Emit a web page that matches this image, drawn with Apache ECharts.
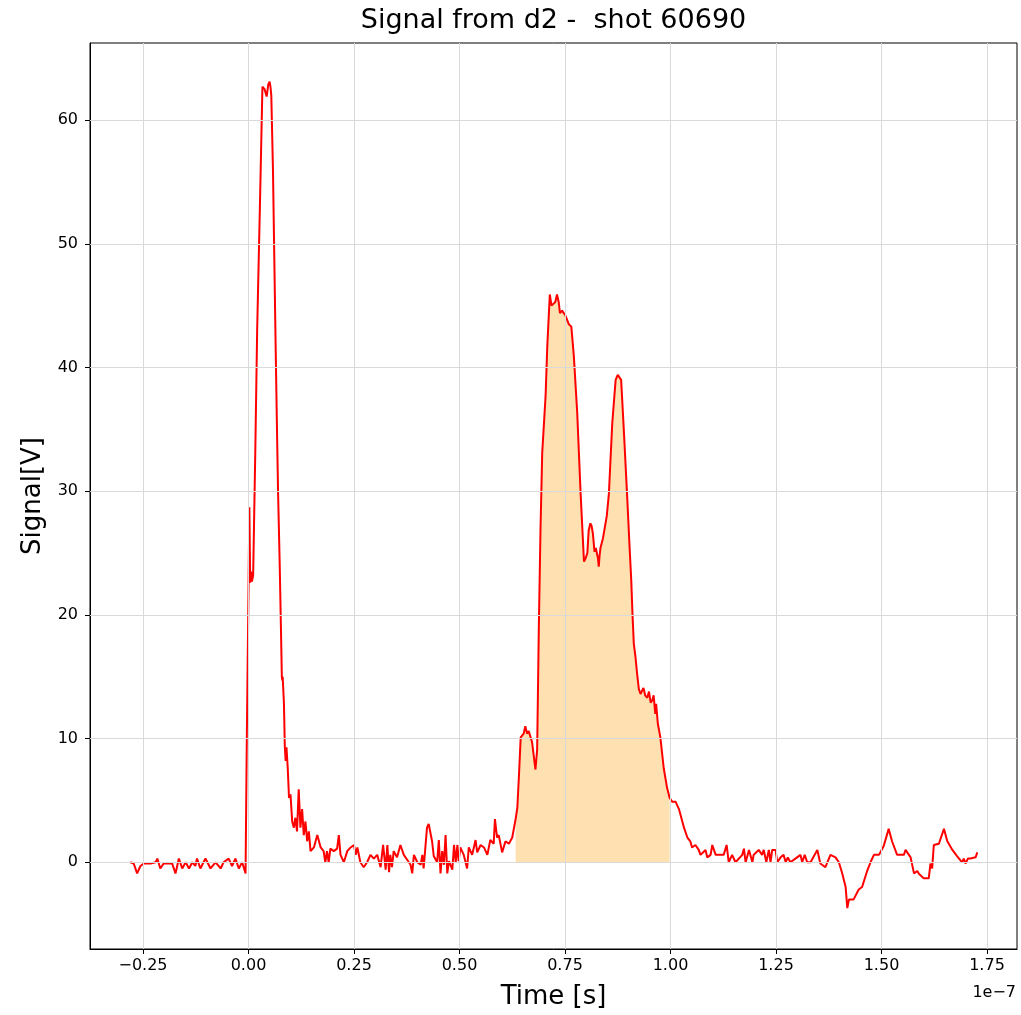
<!DOCTYPE html>
<html>
<head>
<meta charset="utf-8">
<script src="https://cdn.jsdelivr.net/npm/echarts@6/dist/echarts.min.js"></script>
<style>html,body{margin:0;padding:0;background:#fff}#c{width:1021px;height:1015px}</style>
</head>
<body>
<div id="c"></div>
<script>
// Time in units of 1e-7 s
const timeE7 = [
-0.280,-0.272,-0.264,-0.256,-0.248,-0.232,-0.220,-0.216,-0.209,-0.201,
-0.181,-0.173,-0.165,-0.157,-0.149,-0.141,-0.133,-0.126,-0.122,-0.114,
-0.102,-0.090,-0.078,-0.066,-0.059,-0.047,-0.039,-0.031,-0.023,-0.015,-0.007,
-0.004,0.000,0.002,0.004,0.006,0.008,0.011,0.016,0.0205,0.027,
0.033,0.036,0.038,0.043,0.047,0.050,0.052,0.054,0.058,0.064,
0.067,0.070,0.074,0.077,0.079,0.080,0.081,0.084,0.086,0.088,
0.090,0.093,0.096,
0.0995,0.1035,0.1075,0.111,0.115,0.119,0.123,0.127,0.131,0.135,
0.139,0.143,0.147,0.155,0.163,0.171,0.178,0.182,0.186,0.190,
0.194,0.202,0.210,0.214,0.218,0.226,0.234,0.242,0.250,0.254,
0.258,0.265,0.273,0.281,0.289,0.297,0.305,0.313,0.319,0.325,
0.329,0.333,0.336,0.340,0.344,0.352,0.360,
0.368,0.376,0.384,0.388,0.392,0.400,0.408,0.412,0.415,0.423,
0.427,0.435,0.439,0.447,0.451,0.455,0.459,0.463,0.467,0.471,
0.475,0.483,0.487,0.491,0.495,0.498,0.502,0.510,0.518,0.522,
0.530,0.538,0.542,0.550,0.558,0.566,0.573,0.581,0.584,0.589,
0.593,0.601,0.609,0.617,0.625,0.633,0.637,0.641,0.645,0.652,
0.656,0.660,0.664,0.672,0.680,0.684,
0.688,0.692,0.696,0.704,0.708,0.714,0.718,0.722,0.727,0.731,
0.735,0.738,0.743,0.747,0.751,0.755,0.759,0.765,0.771,0.779,
0.787,0.795,0.799,0.803,0.806,0.810,0.813,0.816,0.820,0.823,
0.826,0.828,0.830,0.832,0.834,0.840,0.844,0.849,0.854,0.862,
0.870,0.875,0.879,0.883,0.889,0.897,0.903,0.907,0.910,0.913,
0.917,0.921,0.925,0.929,0.933,0.936,0.940,0.945,0.949,0.953,
0.957,0.960,0.964,0.966,0.970,0.976,0.984,0.992,0.998,
1.004,1.012,1.020,1.028,1.032,1.040,1.047,1.051,1.059,1.067,
1.071,1.083,1.087,1.095,1.099,1.107,1.126,1.133,1.138,1.146,
1.154,1.170,1.174,1.178,1.186,1.194,1.197,1.209,1.217,1.221,
1.227,1.233,1.237,1.241,1.249,1.253,1.261,1.268,1.273,1.278,
1.284,1.296,1.308,1.312,1.318,1.324,1.332,1.340,1.348,1.355,
1.367,1.379,1.391,1.399,1.407,1.415,1.419,1.423,1.434,1.446,
1.454,1.466,1.474,1.482,1.494,1.505,1.517,1.525,1.537,1.553,
1.557,1.569,1.577,1.585,1.588,1.600,1.612,1.616,1.620,1.624,
1.636,1.648,1.656,1.668,1.679,1.691,1.695,1.699,1.705,1.711,
1.723,1.727
];
// Signal in volts
const signalV = [
0,-0.1,-0.9,-0.3,-0.1,-0.1,0,0.3,-0.5,-0.1,
-0.1,-0.9,0.3,-0.5,0,-0.5,0,-0.3,0.3,-0.5,
0.3,-0.5,0,-0.5,0,0.3,-0.3,0.3,-0.5,0,-0.9,
10,22,28.7,22.6,23.5,22.7,23.2,33,43,53,
62.7,62.8,62.5,61.9,62.9,63.1,62.7,62.0,55.9,42.4,
36,30,24,18.7,15.0,14.7,15.0,12.8,9.4,8.2,
9.3,7.6,5.2,
5.5,3.3,2.8,3.6,2.5,5.9,2.8,4.3,2.2,3.3,
1.7,2.5,0.9,1.2,2.2,1.2,0.9,0,0.9,0,
1.1,0.9,1.1,2.2,0.6,0,0.9,1.2,1.4,0.6,
1.2,0,-0.4,0,0.6,0.3,0.6,-0.4,1.4,-0.6,
1.4,-0.8,0.6,-0.4,0.9,0.4,1.4,
0.6,0.2,-0.2,-0.9,0.6,0,-0.2,0.6,-0.5,2.8,
3.1,1.7,0.5,0,1.8,-0.9,0.9,-0.2,2.2,-0.9,
0.1,-0.6,1.4,0,1.4,0.1,1.2,0.6,-0.5,1.2,
0.6,1.8,0.8,1.4,1.2,0.6,1.8,1.5,3.5,2.0,
2.2,0.8,1.7,1.5,2.0,3.5,4.4,7.1,10.1,10.4,
11.0,10.4,10.6,9.7,7.5,9.1,
19.0,27,33.1,37.7,41.7,45.9,45.0,45.1,45.3,45.9,
45.3,44.4,44.6,44.5,44.2,44.3,43.5,43.3,40.9,36.3,
29.8,24.3,24.6,25.0,26.8,27.4,27.2,26.6,25.1,25.4,
25.5,24.6,23.9,24.8,25.4,26.2,26.3,28.0,29.8,35.5,
39.0,39.4,39.2,39.0,35.2,29.8,25.5,22.8,20,17.7,
16.6,15.2,14.0,13.6,13.9,14.1,13.5,13.3,13.8,12.9,
13.1,13.5,12.0,12.8,11.2,10.1,7.6,6.0,5.2,
4.9,4.9,4.3,3.3,2.8,2.0,1.7,1.2,1.4,1.0,
0.6,1.0,0.4,0.6,1.4,0.6,0.6,1.4,0,0.6,
0,0.6,1.1,0,1.0,0,0.6,1.0,0.6,1.0,
0,1.0,0,1.0,1.0,0,0.4,0.6,0,0.4,
0,0.3,0.6,0,0.6,0,0,0.5,1.0,-0.1,
-0.4,0.6,0.4,0,-0.9,-2.0,-3.7,-3.0,-3.0,-2.2,
-2.0,-0.7,0,0.6,0.6,1.3,2.7,1.7,0.6,0.6,
1.0,0.4,-0.9,-0.7,-0.9,-1.3,-1.3,-0.1,-0.5,1.4,
1.5,2.7,1.7,1.0,0.5,0,0.3,-0.1,0.3,0.3,
0.4,0.8
];
const xTicks = [-0.25, 0, 0.25, 0.5, 0.75, 1.0, 1.25, 1.5, 1.75];
const yTicks = [0, 10, 20, 30, 40, 50, 60];
const fillStart = 0.63;
const fillEnd = 1.0;
const titleText = 'Signal from d2 -  shot 60690';
const xLabel = 'Time [s]';
const yLabel = 'Signal[V]';
const offsetText = '1e\u22127';

const lineData = timeE7.map((t, i) => [t, signalV[i]]);
const fillData = lineData.filter(p => p[0] >= fillStart && p[0] <= fillEnd);

const FONT = '"DejaVu Sans", sans-serif';
const fmtX = v => (v < 0 ? '\u2212' : '') + Math.abs(v).toFixed(2);

const chart = echarts.init(document.getElementById('c'), null, {renderer: 'canvas'});
chart.setOption({
  animation: false,
  backgroundColor: '#fff',
  grid: {left: 90, right: 4, top: 43, bottom: 66, show: true, borderColor: '#000', borderWidth: 1, backgroundColor: 'transparent'},
  xAxis: {
    type: 'value', min: -0.3756, max: 1.8211,
    axisLine: {show: true, onZero: false, lineStyle: {color: '#000', width: 1}},
    axisTick: {show: true, inside: false, length: 5, lineStyle: {color: '#000'}, customValues: xTicks},
    axisLabel: {show: true, customValues: xTicks, formatter: fmtX, color: '#000', fontSize: 16, fontFamily: FONT, margin: 9},
    splitLine: {show: false}
  },
  yAxis: {
    type: 'value', min: -7.01, max: 66.23,
    axisLine: {show: true, onZero: false, lineStyle: {color: '#000', width: 1}},
    axisTick: {show: true, inside: false, length: 5, lineStyle: {color: '#000'}, customValues: yTicks},
    axisLabel: {show: true, customValues: yTicks, formatter: v => String(Math.round(v)), color: '#000', fontSize: 16, fontFamily: FONT, margin: 12},
    splitLine: {show: false}
  },
  series: [
    {
      name: 'grid', type: 'line', data: [], silent: true, z: 0,
      markLine: {
        silent: true, symbol: ['none', 'none'], animation: false,
        label: {show: false},
        lineStyle: {color: '#d9d9d9', width: 1, type: 'solid'},
        emphasis: {disabled: true},
        data: xTicks.map(v => ({xAxis: v})).concat(yTicks.map(v => ({yAxis: v})))
      }
    },
    {
      name: 'fill', type: 'line', data: fillData, showSymbol: false, silent: true, z: 1,
      lineStyle: {width: 0}, areaStyle: {color: 'rgba(251,170,40,0.36)', opacity: 1, origin: 0}
    },
    {
      name: 'signal', type: 'line', data: lineData, showSymbol: false, z: 3,
      sampling: 'none', lineStyle: {color: '#ff0000', width: 2}, silent: true
    }
  ],
  graphic: [
    {type: 'text', x: 553.5, y: 21, style: {text: titleText, font: '27px ' + FONT, fill: '#000', textAlign: 'center', textVerticalAlign: 'middle'}},
    {type: 'text', x: 553.5, y: 997, style: {text: xLabel, font: '26px ' + FONT, fill: '#000', textAlign: 'center', textVerticalAlign: 'middle'}},
    {type: 'text', x: 33, y: 496, rotation: Math.PI / 2, style: {text: yLabel, font: '26px ' + FONT, fill: '#000', textAlign: 'center', textVerticalAlign: 'middle'}},
    {type: 'text', x: 1016, y: 993, style: {text: offsetText, font: '16px ' + FONT, fill: '#000', textAlign: 'right', textVerticalAlign: 'middle'}}
  ]
});
</script>
</body>
</html>
